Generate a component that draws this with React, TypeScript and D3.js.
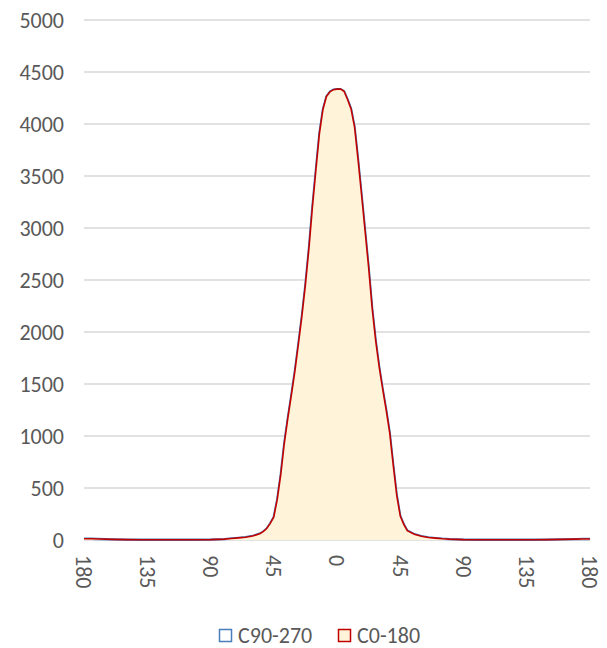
import * as d3 from 'd3';
import { type FC } from 'react';

// angle categories (degrees), labels shown as absolute values
const angles = [
  -180, -175, -170, -160, -150, -140, -130, -120, -110, -100, -90, -80, -75, -70,
  -65, -60, -55, -52.5, -50, -47.5, -45, -42.5, -40, -37.5, -35, -32.5, -30,
  -27.5, -25, -22.5, -20, -17.5, -15, -12.5, -10, -7.5, -5, -2.5, 0, 2.5, 5,
  7.5, 10, 12.5, 15, 17.5, 20, 22.5, 25, 27.5, 30, 32.5, 35, 37.5, 40, 42.5,
  45, 47.5, 50, 55, 60, 65, 70, 75, 80, 90, 100, 110, 120, 130, 140, 150, 160,
  170, 175, 180,
];

const c0_180 = [
  12, 12, 10, 6, 4, 3, 3, 3, 3, 3, 4, 8, 14, 20,
  26, 38, 60, 80, 110, 160, 220, 390, 630, 930, 1170, 1390, 1620,
  1880, 2150, 2450, 2800, 3200, 3560, 3910, 4140, 4265, 4310, 4330, 4335, 4335, 4315,
  4235, 4145, 3970, 3655, 3315, 2970, 2620, 2230, 1920, 1665, 1450, 1250, 1030, 720, 430,
  230, 150, 90, 55, 36, 24, 18, 12, 8, 4, 3, 3, 3, 3, 3, 4, 6,
  8, 10, 10,
];

const c90_270 = [
  12, 12, 10, 6, 4, 3, 3, 3, 3, 3, 4, 8, 14, 20,
  26, 38, 60, 80, 110, 160, 220, 390, 630, 930, 1170, 1390, 1620,
  1880, 2150, 2450, 2800, 3200, 3560, 3910, 4140, 4265, 4310, 4330, 4335, 4335, 4315,
  4235, 4145, 3970, 3655, 3315, 2970, 2620, 2230, 1920, 1665, 1450, 1250, 1030, 720, 430,
  230, 150, 90, 55, 36, 24, 18, 12, 8, 4, 3, 3, 3, 3, 3, 4, 6,
  8, 10, 10,
];

const xTicks = [-180, -135, -90, -45, 0, 45, 90, 135, 180];
const yTicks = [0, 500, 1000, 1500, 2000, 2500, 3000, 3500, 4000, 4500, 5000];

const W = 607;
const H = 648;
const font = "Carlito, Calibri, 'Liberation Sans', sans-serif";
const textColor = '#595959';

const App: FC = () => {
  const x = d3.scaleLinear().domain([-180, 180]).range([84, 590]);
  const y = d3.scaleLinear().domain([0, 5000]).range([540, 20]);

  type P = { a: number; v: number };
  const series = (vals: number[]): P[] => angles.map((a, i) => ({ a, v: vals[i] }));

  const area = d3
    .area<P>()
    .x((d) => x(d.a))
    .y0(y(0))
    .y1((d) => y(d.v));
  const line = d3
    .line<P>()
    .x((d) => x(d.a))
    .y((d) => y(d.v));

  const blue = series(c90_270);
  const red = series(c0_180);

  return (
    <svg
      width={W}
      height={H}
      style={{ position: 'absolute', left: 0, top: 0, background: '#fff' }}
      fontFamily={font}
    >
      {/* grid */}
      {yTicks.map((t) => (
        <line
          key={t}
          x1={84}
          x2={590}
          y1={y(t)}
          y2={y(t)}
          stroke="#d9d9d9"
          strokeWidth={1.3}
        />
      ))}
      {yTicks.map((t) => (
        <text
          key={'yl' + t}
          x={64}
          y={y(t)}
          dy="0.35em"
          textAnchor="end"
          fontSize={22}
          fill={textColor}
        >
          {t}
        </text>
      ))}

      {/* C90-270 behind */}
      <path d={area(blue) ?? ''} fill="#fff" />
      <path d={line(blue) ?? ''} fill="none" stroke="#4a7ebb" strokeWidth={2.4} />

      {/* C0-180 */}
      <path d={area(red) ?? ''} fill="#fff4d9" />
      <path d={line(red) ?? ''} fill="none" stroke="#c00000" strokeWidth={1.6} />

      {/* x labels, rotated */}
      {xTicks.map((t, i) => (
        <text
          key={'xl' + i}
          transform={`translate(${x(t)},555) rotate(90)`}
          dy="0.35em"
          textAnchor="start"
          fontSize={22}
          fill={textColor}
        >
          {Math.abs(t)}
        </text>
      ))}

      {/* legend */}
      <rect x={219.5} y={629.5} width={12} height={12} fill="#fff" stroke="#4a7ebb" strokeWidth={1.5} />
      <text x={238} y={635} dy="0.35em" fontSize={22} fill={textColor}>
        C90-270
      </text>
      <rect x={338.5} y={629.5} width={12} height={12} fill="#fff4d9" stroke="#c00000" strokeWidth={1.5} />
      <text x={357} y={635} dy="0.35em" fontSize={22} fill={textColor}>
        C0-180
      </text>
    </svg>
  );
};

export default App;
